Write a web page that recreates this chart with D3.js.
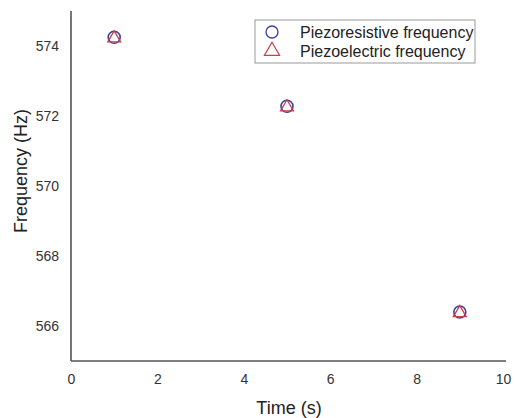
<!DOCTYPE html>
<html>
<head>
<meta charset="utf-8">
<script src="https://cdn.jsdelivr.net/npm/d3@7"></script>
<style>
  body { margin: 0; background: #fff; }
  text { font-family: "Liberation Sans", Arial, sans-serif; }
</style>
</head>
<body>
<div id="graf"></div>
<script>
const times = [1, 5, 9];
const piezoresistive = [574.25, 572.28, 566.4];
const piezoelectric = [574.25, 572.28, 566.4];
const xTicks = [0, 2, 4, 6, 8, 10];
const yTicks = [566, 568, 570, 572, 574];

const ancho_total = 515;
const alto_total = 418;
const margins = { top: 11, left: 71, right: 9, bottom: 57 };
const ancho = ancho_total - margins.left - margins.right;
const alto = alto_total - margins.top - margins.bottom;

const svg = d3.select("#graf")
  .append("svg")
  .attr("width", ancho_total)
  .attr("height", alto_total)
  .append("g")
  .attr("transform", `translate(${margins.left}, ${margins.top})`);

const x = d3.scaleLinear().domain([0, 10]).range([0, 432]);
const y = d3.scaleLinear().domain([565, 575]).range([alto, 0]);

// axes, no tick marks
const xAxis = svg.append("g")
  .attr("transform", `translate(0,${alto})`)
  .call(d3.axisBottom(x).tickValues(xTicks).tickSize(0).tickPadding(13).tickFormat(d3.format("d")));
const yAxis = svg.append("g")
  .call(d3.axisLeft(y).tickValues(yTicks).tickSize(0).tickPadding(12).tickFormat(d3.format("d")));

[xAxis, yAxis].forEach((a) => {
  a.select(".domain").remove();
  a.selectAll("text").attr("fill", "#333").style("font-size", "14px");
});

svg.append("line")
  .attr("x1", 0).attr("x2", 0).attr("y1", 0).attr("y2", alto)
  .attr("stroke", "#555").attr("stroke-width", 1.6);
svg.append("line")
  .attr("x1", 0).attr("x2", ancho).attr("y1", alto).attr("y2", alto)
  .attr("stroke", "#555").attr("stroke-width", 1.6);

svg.append("text")
  .attr("x", 218)
  .attr("y", alto + 53)
  .attr("text-anchor", "middle")
  .attr("fill", "#222")
  .style("font-size", "18px")
  .text("Time (s)");

svg.append("text")
  .attr("transform", `translate(${-44}, ${171 - margins.top}) rotate(-90)`)
  .attr("text-anchor", "middle")
  .attr("fill", "#222")
  .style("font-size", "18px")
  .text("Frequency (Hz)");

const blue = "#3b3f9e";
const red = "#c8404a";
const tri = d3.symbol().type(d3.symbolTriangle).size(72);

svg.selectAll(".circ")
  .data(times)
  .enter()
  .append("circle")
  .attr("class", "circ")
  .attr("cx", (d) => x(d))
  .attr("cy", (d, i) => y(piezoresistive[i]))
  .attr("r", 6)
  .attr("fill", "none")
  .attr("stroke", blue)
  .attr("stroke-width", 1.6);

svg.selectAll(".tri")
  .data(times)
  .enter()
  .append("path")
  .attr("class", "tri")
  .attr("d", tri)
  .attr("transform", (d, i) => `translate(${x(d)}, ${y(piezoelectric[i]) + 1})`)
  .attr("fill", "none")
  .attr("stroke", red)
  .attr("stroke-width", 1.3);

// legend
const legend = svg.append("g").attr("transform", `translate(${255 - margins.left}, ${20 - margins.top})`);
legend.append("rect")
  .attr("width", 220).attr("height", 43)
  .attr("fill", "#fff").attr("stroke", "#999").attr("stroke-width", 1);
legend.append("circle")
  .attr("cx", 17).attr("cy", 12).attr("r", 6)
  .attr("fill", "none").attr("stroke", blue).attr("stroke-width", 1.3);
legend.append("path")
  .attr("d", d3.symbol().type(d3.symbolTriangle).size(100))
  .attr("transform", "translate(17, 31)")
  .attr("fill", "none").attr("stroke", red).attr("stroke-width", 1.2);
legend.append("text").attr("x", 45).attr("y", 18).attr("fill", "#222").style("font-size", "16px").text("Piezoresistive frequency");
legend.append("text").attr("x", 45).attr("y", 37).attr("fill", "#222").style("font-size", "16px").text("Piezoelectric frequency");
</script>
</body>
</html>
